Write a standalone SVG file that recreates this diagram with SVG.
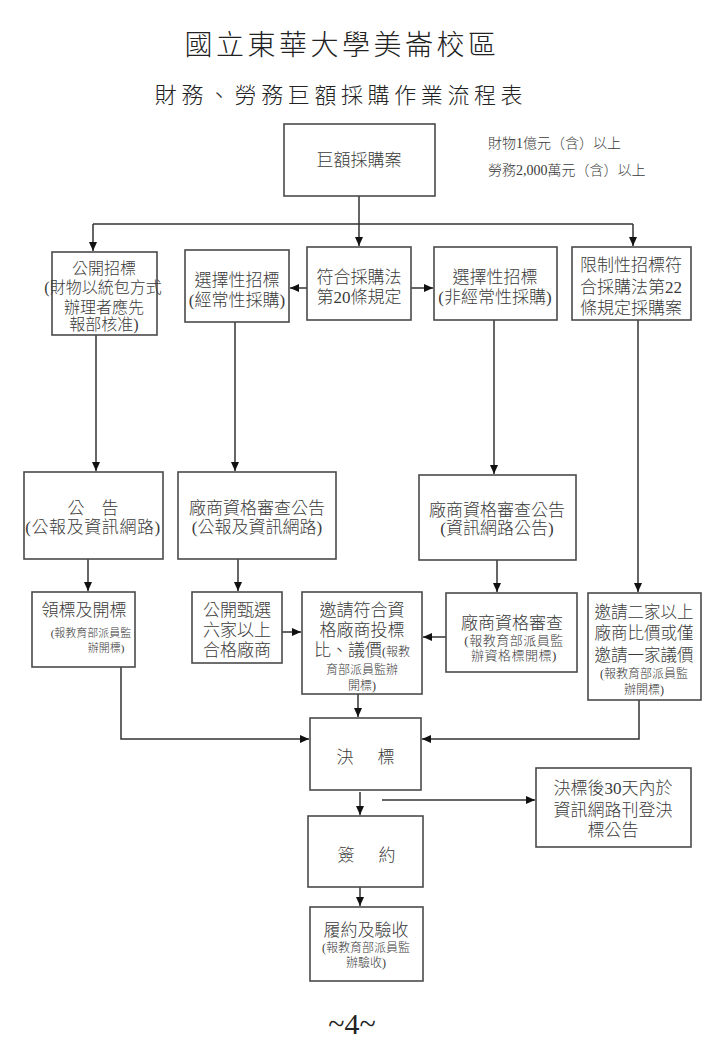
<svg xmlns="http://www.w3.org/2000/svg" width="720" height="1040" viewBox="0 0 720 1040">
<style>
text{font-family:"Liberation Serif","Noto Sans CJK TC",serif;fill:#3a3a3a;text-anchor:middle;font-weight:300}
.t{font-size:17px}
.s{font-size:12px}
.n{font-size:14px;text-anchor:start}
.box rect{fill:#fff;stroke:#4a4a4a;stroke-width:1.6}
#connectors path{fill:none;stroke:#333;stroke-width:1.5}
</style>
<defs>
<marker id="ah" markerUnits="userSpaceOnUse" markerWidth="10" markerHeight="10" refX="9" refY="5" orient="auto">
<path d="M0,1 L9,5 L0,9 Z" fill="#111"/>
</marker>
</defs>
<rect width="720" height="1040" fill="#fff"/>
<g id="title">
<text x="342" y="55" style="font-size:28px;letter-spacing:3.5px;fill:#222">國立東華大學美崙校區</text>
<text x="341" y="103" style="font-size:22px;letter-spacing:4.6px;fill:#222">財務、勞務巨額採購作業流程表</text>
</g>
<g id="note">
<text class="n" x="488" y="148">財物1億元（含）以上</text>
<text class="n" x="488" y="175">勞務2,000萬元（含）以上</text>
</g>
<g id="connectors">
<path d="M359,196 V224 M93,224 H633"/>
<path d="M93,224 V251" marker-end="url(#ah)"/>
<path d="M359,224 V246" marker-end="url(#ah)"/>
<path d="M633,224 V246" marker-end="url(#ah)"/>
<path d="M307,288 H290" marker-end="url(#ah)"/>
<path d="M411,288 H433" marker-end="url(#ah)"/>
<path d="M96,335 V471" marker-end="url(#ah)"/>
<path d="M235,322 V471" marker-end="url(#ah)"/>
<path d="M494,320 V474" marker-end="url(#ah)"/>
<path d="M638,320 V592" marker-end="url(#ah)"/>
<path d="M88,559 V591" marker-end="url(#ah)"/>
<path d="M238,559 V591" marker-end="url(#ah)"/>
<path d="M497,560 V592" marker-end="url(#ah)"/>
<path d="M282,632 H301" marker-end="url(#ah)"/>
<path d="M446,637 H423" marker-end="url(#ah)"/>
<path d="M358,694 V717" marker-end="url(#ah)"/>
<path d="M121,667 V739 H309" marker-end="url(#ah)"/>
<path d="M639,700 V739 H422" marker-end="url(#ah)"/>
<path d="M360,792 V815" marker-end="url(#ah)"/>
<path d="M382,800 H535" marker-end="url(#ah)"/>
<path d="M360,887 V906" marker-end="url(#ah)"/>
</g>
<g id="n-top" class="box">
<rect x="284" y="124" width="151" height="72"/>
<text class="t" x="359" y="166">巨額採購案</text>
</g>
<g id="n-open" class="box">
<rect x="52" y="252" width="105" height="83"/>
<text style="font-size:16px" x="104" y="274">公開招標</text>
<text style="font-size:16px" x="103" y="293">(財物以統包方式</text>
<text style="font-size:16px" x="104" y="313">辦理者應先</text>
<text style="font-size:16px" x="104" y="330">報部核准)</text>
</g>
<g id="n-sel1" class="box">
<rect x="185" y="250" width="104" height="72"/>
<text class="t" x="237" y="286">選擇性招標</text>
<text class="t" x="237" y="306">(經常性採購)</text>
</g>
<g id="n-law20" class="box">
<rect x="307" y="247" width="104" height="73"/>
<text class="t" x="359" y="283">符合採購法</text>
<text class="t" x="359" y="303">第20條規定</text>
</g>
<g id="n-sel2" class="box">
<rect x="434" y="247" width="123" height="73"/>
<text class="t" x="495" y="283">選擇性招標</text>
<text class="t" x="495" y="303">(非經常性採購)</text>
</g>
<g id="n-limit" class="box">
<rect x="572" y="247" width="119" height="73"/>
<text class="t" x="631" y="271">限制性招標符</text>
<text class="t" x="631" y="293">合採購法第22</text>
<text class="t" x="631" y="314">條規定採購案</text>
</g>
<g id="n-notice" class="box">
<rect x="24" y="472" width="139" height="87"/>
<text class="t" x="93" y="514">公　告</text>
<text class="t" x="93" y="533" style="letter-spacing:0.6px">(公報及資訊網路)</text>
</g>
<g id="n-qual1" class="box">
<rect x="178" y="472" width="158" height="87"/>
<text class="t" x="257" y="514">廠商資格審查公告</text>
<text class="t" x="257" y="533">(公報及資訊網路)</text>
</g>
<g id="n-qual2" class="box">
<rect x="419" y="475" width="157" height="85"/>
<text class="t" x="497" y="516">廠商資格審查公告</text>
<text class="t" x="497" y="534">(資訊網路公告)</text>
</g>
<g id="n-bid" class="box">
<rect x="32" y="592" width="103" height="75"/>
<text class="t" x="84" y="616">領標及開標</text>
<text style="font-size:11px" x="91" y="637">(報教育部派員監</text>
<text style="font-size:11px" x="106" y="652">辦開標)</text>
</g>
<g id="n-six" class="box">
<rect x="192" y="592" width="90" height="71"/>
<text class="t" x="237" y="616">公開甄選</text>
<text class="t" x="237" y="636">六家以上</text>
<text class="t" x="237" y="656">合格廠商</text>
</g>
<g id="n-invite" class="box">
<rect x="302" y="592" width="120" height="102"/>
<text class="t" x="362" y="616">邀請符合資</text>
<text class="t" x="362" y="636">格廠商投標</text>
<text class="t" x="362" y="656">比、議價<tspan class="s">(報教</tspan></text>
<text class="s" x="362" y="674">育部派員監辦</text>
<text class="s" x="362" y="690">開標)</text>
</g>
<g id="n-review" class="box">
<rect x="446" y="593" width="131" height="79"/>
<text class="t" x="512" y="629">廠商資格審查</text>
<text style="font-size:13px;letter-spacing:0.5px" x="514" y="645">(報教育部派員監</text>
<text style="font-size:13px;letter-spacing:0.5px" x="514" y="660">辦資格標開標)</text>
</g>
<g id="n-two" class="box">
<rect x="588" y="593" width="113" height="107"/>
<text style="font-size:16.5px" x="644" y="618">邀請二家以上</text>
<text style="font-size:16.5px" x="644" y="639">廠商比價或僅</text>
<text style="font-size:16.5px" x="644" y="661">邀請一家議價</text>
<text class="s" x="644" y="678">(報教育部派員監</text>
<text class="s" x="644" y="694">辦開標)</text>
</g>
<g id="n-award" class="box">
<rect x="310" y="718" width="111" height="72"/>
<text class="t" y="763"><tspan x="345">決</tspan><tspan x="386">標</tspan></text>
</g>
<g id="n-publish" class="box">
<rect x="536" y="768" width="155" height="79"/>
<text class="t" x="613" y="794">決標後30天內於</text>
<text class="t" x="613" y="816">資訊網路刊登決</text>
<text class="t" x="613" y="836">標公告</text>
</g>
<g id="n-sign" class="box">
<rect x="308" y="816" width="115" height="71"/>
<text class="t" y="861"><tspan x="346">簽</tspan><tspan x="387">約</tspan></text>
</g>
<g id="n-accept" class="box">
<rect x="310" y="907" width="113" height="74"/>
<text class="t" x="366" y="936">履約及驗收</text>
<text class="s" x="366" y="952">(報教育部派員監</text>
<text class="s" x="366" y="967">辦驗收)</text>
</g>
<text x="352" y="1034" style="font-size:30px;fill:#222">~4~</text>
</svg>
